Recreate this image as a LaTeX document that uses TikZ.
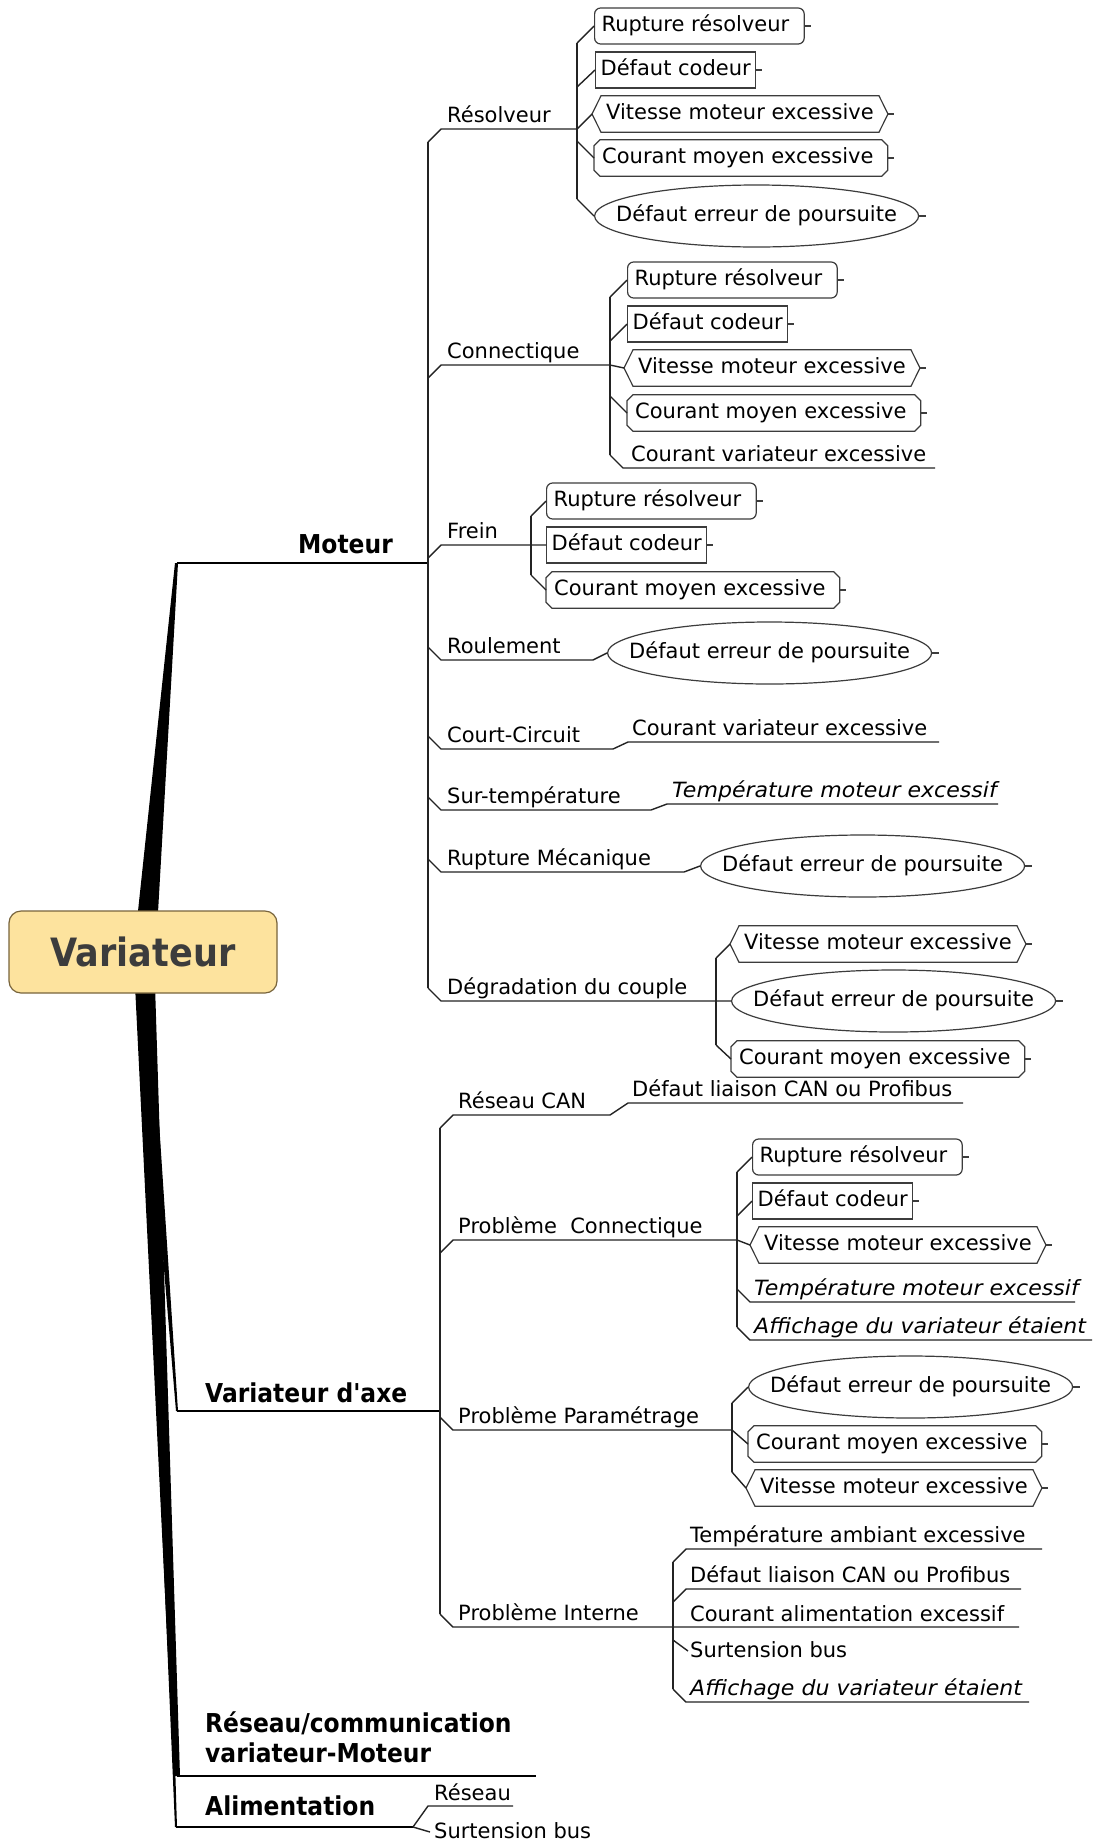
\documentclass[tikz,border=0pt]{standalone}
\usepackage{fontspec}
\setmainfont{DejaVu Sans}
\newfontfamily\bfam{DejaVu Sans}[FakeStretch=0.9]
\newfontfamily\itfam{DejaVu Sans}[FakeStretch=1.05]
\usetikzlibrary{shapes.geometric}
\definecolor{linec}{RGB}{35,35,35}
\definecolor{shapec}{RGB}{60,60,60}
\definecolor{rootfill}{RGB}{253,227,158}
\definecolor{rootdraw}{RGB}{120,100,60}
\definecolor{roottext}{RGB}{60,60,60}
\newcommand\rf{\fontsize{21}{25}\selectfont}
\newcommand\mbf{\bfam\bfseries\fontsize{26}{30}\selectfont}
\newcommand\kidR[4]{\node[kid,shp,rounded corners=6pt] (#1) at (#2,#3) {#4\kern8pt\relax}; \draw[shp] (#1.east) -- ++(6,0);}
\newcommand\kidB[4]{\node[kid,shp,inner xsep=5pt] (#1) at (#2,#3) {#4}; \draw[shp] (#1.east) -- ++(6,0);}
\newcommand\kidH[4]{\node[kid,inner xsep=14pt] (#1) at (#2,#3) {#4};
 \draw[shp] (#1.west) -- ([xshift=9pt]#1.north west) -- ([xshift=-9pt]#1.north east) -- (#1.east) -- ([xshift=-9pt]#1.south east) -- ([xshift=9pt]#1.south west) -- cycle;
 \draw[shp] (#1.east) -- ++(6,0);}
\newcommand\kidO[4]{\node[kid,inner xsep=8pt] (#1) at (#2,#3) {#4\kern6pt\relax};
 \draw[shp] ([yshift=-6pt]#1.north west) -- ([xshift=6pt]#1.north west) -- ([xshift=-6pt]#1.north east) -- ([yshift=-6pt]#1.north east) -- ([yshift=6pt]#1.south east) -- ([xshift=-6pt]#1.south east) -- ([xshift=6pt]#1.south west) -- ([yshift=6pt]#1.south west) -- cycle;
 \draw[shp] (#1.east) -- ++(6,0);}
\newcommand\kidE[4]{\node[kid,shp,ellipse,inner xsep=-60pt,minimum width=324pt,minimum height=62pt] (#1) at (#2,#3) {#4}; \draw[shp] (#1.east) -- ++(7,0);}
\newcommand\mmconn[3]{\draw[ln] (#1,#2) -- (#3.west);}
\begin{document}
\begin{tikzpicture}[x=1pt,y=-1pt,
 lbl/.style={font=\rf, anchor=base west, inner sep=0pt, text=black},
 blbl/.style={font=\mbf, anchor=base west, inner sep=0pt, text=black},
 itl/.style={font={\itfam\rf\itshape}, anchor=base west, inner sep=0pt, text=black},
 ln/.style={draw=linec, line width=1.4pt},
 mln/.style={draw=black, line width=1.9pt},
 shp/.style={draw=shapec, line width=1.2pt},
 kid/.style={font=\rf, anchor=west, inner xsep=7pt, inner ysep=0pt, text height=15pt, text depth=4.5pt, minimum height=36pt}]
\fill[white] (0,0) rectangle (1094,1840);
\useasboundingbox (0,0) rectangle (1094,1840);

% trunks
\coordinate (mot) at (176.5,563);
\coordinate (vax) at (177,1411);
\coordinate (rcm) at (177,1776);
\coordinate (ali) at (176,1827);
\fill (136,930) -- (157,930) -- ([xshift=1.5pt]mot) -- ([xshift=-1.5pt]mot) -- cycle;
\fill (135,985) -- (155,985) -- ([xshift=3pt]rcm) -- ([xshift=-3pt]rcm) -- cycle;
\fill (139,985) -- (151,985) -- ([xshift=1pt]ali) -- ([xshift=-1pt]ali) -- cycle;
\fill (140,985) -- (150,985) -- ([xshift=1pt]vax) -- ([xshift=-1pt]vax) -- cycle;

% root
\node[draw=rootdraw, fill=rootfill, rounded corners=12pt, line width=1.2pt, minimum width=268pt, minimum height=82pt, font=\bfam\bfseries\fontsize{39}{44}\selectfont, text=roottext] (root) at (143,952) {Variateur};

% main branches
\node[blbl] (moteur) at (298,553) {Moteur};
\node[blbl] (vaxe) at (205,1402) {Variateur d'axe};
\node[blbl] (rc1) at (205,1732) {Réseau/communication};
\node[blbl] (rc2) at (205,1762) {variateur-Moteur};
\node[blbl] (alim) at (205,1815) {Alimentation};
\draw[mln] (mot) -- (428,563);
\draw[mln] (vax) -- (440,1411);
\draw[mln] (rcm) -- (536,1776);
\draw[mln] (ali) -- (413,1827);

% ===== Moteur =====
\node[lbl] (resolv) at (447,122) {Résolveur};
\node[lbl] (connec) at (447,358) {Connectique};
\node[lbl] (frein) at (447,538) {Frein};
\node[lbl] (roul) at (447,653) {Roulement};
\node[lbl] (court) at (447,742) {Court-Circuit};
\node[lbl] (surt) at (447,803) {Sur-température};
\node[lbl] (ruptm) at (447,865) {Rupture Mécanique};
\node[lbl] (degr) at (447,994) {Dégradation du couple};
\draw[ln] (428,142) -- (428,988);

% Résolveur
\kidR{r1}{594}{26}{Rupture résolveur}
\kidB{r2}{595}{70}{Défaut codeur}
\kidH{r3}{592}{114}{Vitesse moteur excessive}
\kidO{r4}{594}{158}{Courant moyen excessive}
\kidE{r5}{594}{216}{Défaut erreur de poursuite}
\draw[ln] (428,142) -- (441,129) -- (577,129);
\draw[ln] (577,43) -- (577,199);
\mmconn{577}{43}{r1}\mmconn{577}{87}{r2}\mmconn{577}{129}{r3}\mmconn{577}{141}{r4}\mmconn{577}{199}{r5}

% Connectique
\kidR{c1}{627}{280}{Rupture résolveur}
\kidB{c2}{627}{324}{Défaut codeur}
\kidH{c3}{624}{368}{Vitesse moteur excessive}
\kidO{c4}{627}{413}{Courant moyen excessive}
\node[lbl] (c5) at (631,461) {Courant variateur excessive};
\draw[ln] (428,378) -- (441,365) -- (610,365);
\draw[ln] (610,297) -- (610,455);
\mmconn{610}{297}{c1}\mmconn{610}{341}{c2}\mmconn{610}{365}{c3}\mmconn{610}{396}{c4}
\draw[ln] (610,455) -- (623,468) -- (935,468);

% Frein
\kidR{f1}{546}{501}{Rupture résolveur}
\kidB{f2}{546}{545}{Défaut codeur}
\kidO{f3}{546}{590}{Courant moyen excessive}
\draw[ln] (428,558) -- (441,545) -- (f2.west);
\draw[ln] (531,516) -- (531,575);
\mmconn{531}{516}{f1}\mmconn{531}{575}{f3}

% Roulement
\kidE{roE}{607}{653}{Défaut erreur de poursuite}
\draw[ln] (428,647) -- (441,660) -- (593,660) -- (roE.west);

% Court-Circuit
\node[lbl] (ccT) at (632,735) {Courant variateur excessive};
\draw[ln] (428,736) -- (441,749) -- (613,749) -- (628,742) -- (939,742);

% Sur-temperature
\node[itl] (stT) at (672,797) {Température moteur excessif};
\draw[ln] (428,797) -- (441,810) -- (651,810) -- (667,804) -- (998,804);

% Rupture Mecanique
\kidE{rmE}{700}{866}{Défaut erreur de poursuite}
\draw[ln] (428,859) -- (441,872) -- (684,872) -- (rmE.west);

% Degradation du couple
\kidH{d1}{730}{944}{Vitesse moteur excessive}
\kidE{dgE}{731}{1001}{Défaut erreur de poursuite}
\kidO{d3}{731}{1059}{Courant moyen excessive}
\draw[ln] (428,988) -- (441,1001) -- (dgE.west);
\draw[ln] (716,958) -- (716,1045);
\mmconn{716}{958}{d1}\mmconn{716}{1045}{d3}

% ===== Variateur d'axe =====
\draw[ln] (440,1128) -- (440,1614);
\node[lbl] (rcan) at (458,1108) {Réseau CAN};
\node[lbl] (rcanT) at (632,1096) {Défaut liaison CAN ou Profibus};
\draw[ln] (440,1128) -- (453,1115) -- (610,1115) -- (628,1103) -- (963,1103);

\node[lbl] (pconn) at (458,1233) {Problème\ \ Connectique};
\draw[ln] (440,1253) -- (453,1240) -- (737,1240);
\kidR{pc1}{752}{1157}{Rupture résolveur}
\kidB{pc2}{752}{1201}{Défaut codeur}
\kidH{pc3}{750}{1245}{Vitesse moteur excessive}
\node[itl] (pc4) at (754,1295) {Température moteur excessif};
\node[itl] (pc5) at (754,1333) {Affichage du variateur étaient};
\draw[ln] (737,1172) -- (737,1327);
\mmconn{737}{1172}{pc1}\mmconn{737}{1216}{pc2}\mmconn{737}{1240}{pc3}
\draw[ln] (737,1289) -- (750,1302) -- (1075,1302);
\draw[ln] (737,1327) -- (750,1340) -- (1092,1340);

\node[lbl] (ppar) at (458,1423) {Problème Paramétrage};
\draw[ln] (440,1417) -- (453,1430) -- (732,1430);
\kidE{pp1}{748}{1387}{Défaut erreur de poursuite}
\kidO{pp2}{748}{1444}{Courant moyen excessive}
\kidH{pp3}{746}{1488}{Vitesse moteur excessive}
\draw[ln] (732,1403) -- (732,1472);
\mmconn{732}{1403}{pp1}\mmconn{732}{1430}{pp2}\mmconn{732}{1472}{pp3}

\node[lbl] (pint) at (458,1620) {Problème Interne};
\draw[ln] (440,1614) -- (453,1627) -- (1019,1627);
\node[lbl] (pi1) at (690,1542) {Température ambiant excessive};
\node[lbl] (pi2) at (690,1582) {Défaut liaison CAN ou Profibus};
\node[lbl] (pi3) at (690,1621) {Courant alimentation excessif};
\node[lbl] (pi4) at (690,1657) {Surtension bus};
\node[itl] (pi5) at (690,1695) {Affichage du variateur étaient};
\draw[ln] (673,1562) -- (673,1689);
\draw[ln] (673,1562) -- (686,1549) -- (1042,1549);
\draw[ln] (673,1602) -- (686,1589) -- (1021,1589);
\draw[ln] (673,1640) -- (688,1651);
\draw[ln] (673,1689) -- (686,1702) -- (1029,1702);

% ===== Alimentation =====
\node[lbl] (alR) at (434,1800) {Réseau};
\node[lbl] (alS) at (434,1838) {Surtension bus};
\draw[ln] (413,1827) -- (428,1806) -- (513,1806);
\draw[ln] (413,1827) -- (430,1832);
\end{tikzpicture}
\end{document}
